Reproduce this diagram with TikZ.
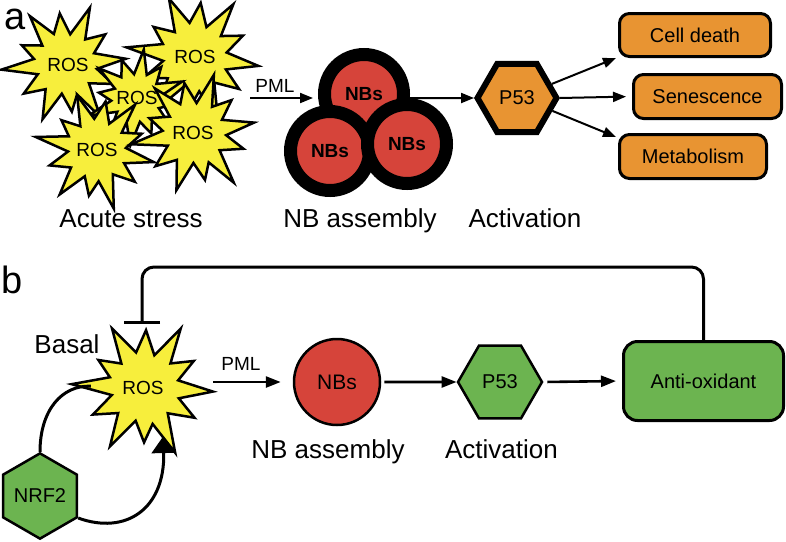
\documentclass[tikz,border=0pt]{standalone}
\usepackage{fontspec}
\setmainfont{Liberation Sans}
\usetikzlibrary{shapes.geometric,arrows.meta,calc}
\definecolor{rosyellow}{RGB}{247,238,60}
\definecolor{nbred}{RGB}{214,68,58}
\definecolor{porange}{RGB}{232,148,50}
\definecolor{pgreen}{RGB}{108,180,80}
\newcommand\fsz[1]{\fontsize{#1}{#1}\selectfont}
\newcommand\burst[4]{%
  \begin{scope}[shift={(#1,#2)},rotate=#3,scale=#4]
    \filldraw[burstline] (0:1) -- (14:0.52) -- (28:0.85) -- (45:0.5) -- (62:1.05) -- (75:0.54)
      -- (88:0.8) -- (103:0.5) -- (118:1) -- (134:0.54) -- (150:0.86) -- (165:0.5)
      -- (180:1.08) -- (194:0.54) -- (208:0.8) -- (223:0.5) -- (238:1) -- (253:0.54)
      -- (268:0.85) -- (283:0.5) -- (298:1.02) -- (313:0.52) -- (328:0.82) -- (344:0.5) -- cycle;
  \end{scope}}
\begin{document}
\begin{tikzpicture}[x=1pt,y=-1pt,
  burstline/.style={fill=rosyellow,draw=black,line width=2.5pt,line join=miter},
  rostext/.style={font=\fsz{19},inner sep=0pt},
  lbl/.style={font=\fsz{26},anchor=base,inner sep=0pt},
  pml/.style={font=\fsz{19},anchor=base,inner sep=0pt},
  panel/.style={font=\fsz{38},anchor=base west,inner sep=0pt},
  nbbig/.style={circle,fill=nbred,draw=black,line width=13pt,minimum size=79pt,inner sep=0pt,font=\bfseries\fsz{19}},
  nbsmall/.style={circle,fill=nbred,draw=black,line width=2.5pt,minimum size=86pt,inner sep=0pt,font=\fsz{21}},
  hexa/.style={regular polygon,regular polygon sides=6,inner sep=0pt,line join=miter},
  obox/.style={rectangle,rounded corners=10pt,fill=porange,draw=black,line width=3pt,font=\fsz{20},inner sep=0pt},
  arr/.style={line width=2pt,-{Triangle[length=13pt,width=10pt]}},
  arrb/.style={line width=2.6pt,-{Triangle[length=15pt,width=11pt]}},
  thick3/.style={line width=3pt}
]
\useasboundingbox (0,0) rectangle (786,541);

% ---------------- panel a ----------------
\node[panel,text height=21pt] (pa) at (4,29) {a};

\burst{66}{64}{5}{60}
\burst{195}{57}{-8}{64}
\burst{137}{98}{20}{48}
\burst{97}{150}{-12}{58}
\burst{195}{133}{10}{60}

\node[rostext] (ros1) at (68,65) {ROS};
\node[rostext] (ros2) at (195,57) {ROS};
\node[rostext] (ros3) at (137,98) {ROS};
\node[rostext] (ros4) at (97,150) {ROS};
\node[rostext] (ros5) at (193,133) {ROS};

\node[lbl] (acute) at (131,227) {Acute stress};

\node[pml] (pmla) at (275,92) {PML};
\coordinate (pmlAs) at (250,98);
\coordinate (pmlAe) at (313,98);
\draw[arr] (pmlAs) -- (pmlAe);

\node[nbbig] (nb1) at (364,94) {NBs};
\node[nbbig] (nb2) at (330,151) {NBs};
\node[nbbig] (nb3) at (407,144) {NBs};
\node[lbl] (nbasm) at (360,227) {NB assembly};

\node[hexa,fill=porange,draw=black,line width=6pt,minimum size=79pt,font=\fsz{20}] (p53a) at (517,98) {P53};
\node[lbl] (acta) at (525,227) {Activation};
\draw[arr] (nb1.east |- p53a) -- (p53a.west);

\node[obox,minimum width=151pt,minimum height=43pt] (cd) at (695,35) {Cell death};
\node[obox,minimum width=148pt,minimum height=44pt] (sen) at (707.5,96.5) {Senescence};
\node[obox,minimum width=147pt,minimum height=44pt] (met) at (693,156.5) {Metabolism};

\draw[arr] (p53a.22) -- ([xshift=-2pt]cd.south west);
\draw[arr,shorten >=6pt] (p53a.east) -- (sen.west);
\draw[arr] (p53a.-20) -- ([xshift=-2pt,yshift=-4pt]met.north west);

% ---------------- panel b ----------------
\node[panel] (pb) at (1,293) {b};

\burst{145}{388}{-3}{68}
\node[rostext,circle,minimum size=104pt] (rosb) at (143,388) {ROS};
\node[font=\fsz{26},anchor=base,inner sep=0pt] (basal) at (67,353) {Basal};

\node[pml] (pmlb) at (241,370) {PML};
\node[nbsmall] (nbb) at (337,382) {NBs};
\coordinate (pmlBs) at (213,382);
\draw[arrb,shorten >=12pt] (pmlBs) -- (nbb.west);

\node[hexa,fill=pgreen,draw=black,line width=2.5pt,minimum size=84pt,font=\fsz{20}] (p53b) at (500,382) {P53};
\node[rectangle,rounded corners=14pt,fill=pgreen,draw=black,line width=3pt,minimum width=160pt,minimum height=79pt,font=\fsz{20}] (anti) at (703.5,381) {Anti-oxidant};

\draw[arrb,shorten <=3pt] (nbb.east) -- (p53b.west);
\draw[arrb,shorten <=4pt,shorten >=6pt] (p53b.east) -- (anti.west);

\node[lbl] (nbasmb) at (328,458) {NB assembly};
\node[lbl] (actb) at (501.5,458) {Activation};

\node[hexa,shape border rotate=90,fill=pgreen,draw=black,line width=2.5pt,minimum size=84pt,font=\fsz{20}] (nrf2) at (40,496) {NRF2};

\coordinate (fbtop) at (142,267);
\coordinate (tbar) at (142,324);
\draw[thick3,rounded corners=12pt,-{Bar[width=36pt,line width=3pt]}] (anti.north) |- (fbtop) -- (tbar);

\draw[thick3] (nrf2.north) .. controls (40,410) and (62,385) .. (rosb.178);
\draw[thick3,-{Triangle[length=17pt,width=24pt]}] (nrf2.-30) .. controls (125,535) and (165,510) .. (rosb.-67);
\end{tikzpicture}
\end{document}
